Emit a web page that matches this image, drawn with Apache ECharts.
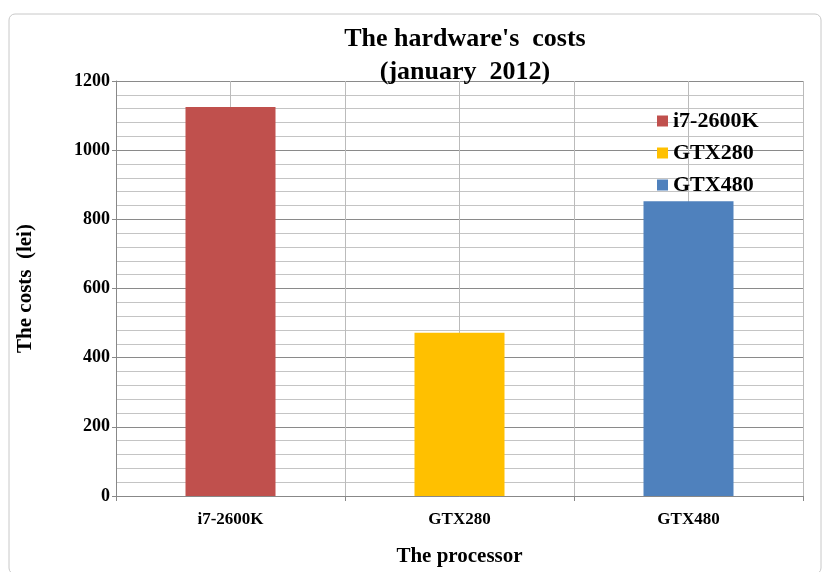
<!DOCTYPE html>
<html><head><meta charset="utf-8">
<script src="https://cdn.jsdelivr.net/npm/echarts@6/dist/echarts.min.js"></script>
<style>html,body{margin:0;padding:0;background:#fff}#c{width:823px;height:572px}</style>
</head><body><div id="c"></div>
<script>
const categories = ['i7-2600K', 'GTX280', 'GTX480'];
const values = [1125, 472, 852];
const colors = ['#C0504D', '#FFC000', '#4F81BD'];
const yTicks = [0, 200, 400, 600, 800, 1000, 1200];

const chart = echarts.init(document.getElementById('c'), null, {renderer: 'canvas'});
const serif = '"Liberation Serif", "Times New Roman", serif';
const series = categories.map((name, i) => ({
  name: name,
  type: 'bar',
  stack: 'all',
  barWidth: 90,
  data: categories.map((c, j) => j === i ? values[i] : null),
  itemStyle: {color: colors[i]},
  xAxisIndex: 0, yAxisIndex: 0
}));
chart.setOption({
  animation: false,
  title: {
    text: "The hardware's  costs\n(january  2012)",
    left: 460, top: 18, textAlign: 'center',
    textStyle: {fontFamily: serif, fontWeight: 'bold', fontSize: 26, lineHeight: 33, color: '#000'}
  },
  graphic: [{type: 'rect', shape: {x: 9, y: 14, width: 812, height: 560, r: 6}, style: {fill: 'none', stroke: '#c8c8c8', lineWidth: 1}, z: -1}],
  legend: {
    orient: 'vertical', left: 652, top: 105, itemGap: 10,
    itemWidth: 11, itemHeight: 11, icon: 'rect',
    textStyle: {fontFamily: serif, fontWeight: 'bold', fontSize: 22, color: '#000'},
    data: categories
  },
  grid: {left: 116, right: 20, top: 81, bottom: 74, outerBounds: {left: 0, right: 0, top: 0, bottom: 0}},
  xAxis: [{
    type: 'category', data: categories,
    name: 'The processor', nameLocation: 'middle', nameGap: 50,
    nameTextStyle: {fontFamily: serif, fontWeight: 'bold', fontSize: 21, color: '#000'},
    axisLine: {lineStyle: {color: '#888'}},
    axisTick: {show: true, length: 5, lineStyle: {color: '#888'}},
    axisLabel: {fontFamily: serif, fontWeight: 'bold', fontSize: 17, color: '#000', margin: 15},
    splitLine: {show: true, lineStyle: {color: '#999'}}
  }, {
    type: 'value', min: 0, max: 6, interval: 1, position: 'top', show: true,
    axisLine: {show: false}, axisTick: {show: false}, axisLabel: {show: false},
    splitLine: {show: true, lineStyle: {color: '#bbb'}}
  }],
  yAxis: {
    type: 'value', min: 0, max: 1200, interval: 200,
    name: 'The costs  (lei)', nameLocation: 'middle', nameGap: 80,
    nameTextStyle: {fontFamily: serif, fontWeight: 'bold', fontSize: 21, color: '#000'},
    axisLine: {show: true, lineStyle: {color: '#888'}},
    axisTick: {show: true, length: 4, lineStyle: {color: '#888'}},
    axisLabel: {fontFamily: serif, fontWeight: 'bold', fontSize: 18, color: '#000', margin: 6,
      formatter: v => yTicks.includes(v) ? String(v) : ''},
    splitLine: {show: true, lineStyle: {color: '#8a8a8a'}},
    minorTick: {show: false, splitNumber: 5},
    minorSplitLine: {show: true, lineStyle: {color: '#c4c4c4'}}
  },
  series: series
});
</script></body></html>
